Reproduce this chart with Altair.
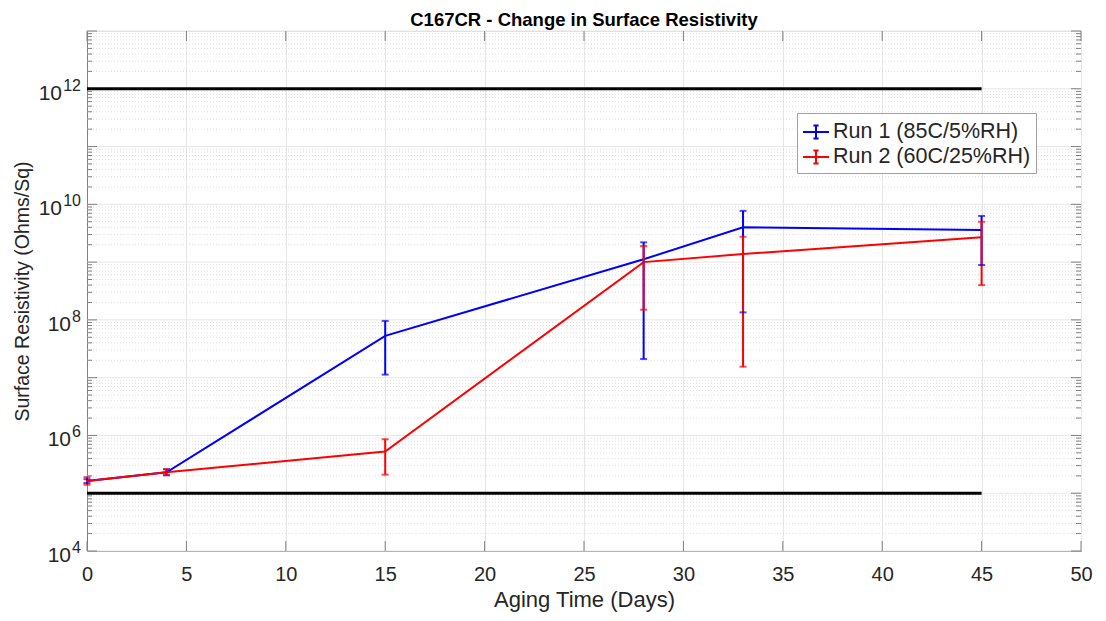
import math
import altair as alt
import pandas as pd

days = [0, 4, 15, 28, 33, 45]
run1 = [1.63e5, 2.3e5, 5.3e7, 1.12e9, 4.0e9, 3.6e9]
run1_hi = [1.75e5, 2.6e5, 9.6e7, 2.2e9, 7.7e9, 6.3e9]
run1_lo = [1.5e5, 2.05e5, 1.13e7, 2.1e7, 1.35e8, 8.9e8]
run2 = [1.63e5, 2.3e5, 5.25e5, 1.0e9, 1.38e9, 2.7e9]
run2_hi = [1.9e5, 2.6e5, 8.6e5, 1.9e9, 2.75e9, 5.0e9]
run2_lo = [1.4e5, 2.05e5, 2.1e5, 1.5e8, 1.55e7, 4.0e8]
series = ["Run 1 (85C/5%RH)", "Run 2 (60C/25%RH)"]
colors = ["#0000FF", "#FF0000"]
limits = [1e12, 1e5]
limit_x = [0, 45]
x_ticks = [0, 5, 10, 15, 20, 25, 30, 35, 40, 45, 50]
labels_1digit = [1e4, 1e6, 1e8]
labels_2digit = [1e10, 1e12]
decade_y = [1e4, 1e5, 1e6, 1e7, 1e8, 1e9, 1e10, 1e11, 1e12, 1e13]
minor_y = [m * d for d in decade_y[:-1] for m in range(2, 10)]

FONT = "Liberation Sans"
W, H = 994, 520

rows = []
for s, v, hi, lo in [(series[0], run1, run1_hi, run1_lo), (series[1], run2, run2_hi, run2_lo)]:
    for d, a, h, l in zip(days, v, hi, lo):
        rows.append({"day": d, "val": a, "hi": h, "lo": l, "series": s})
df = pd.DataFrame(rows)
lim_df = pd.DataFrame({"y": limits, "x0": [limit_x[0]] * 2, "x1": [limit_x[1]] * 2})


def lab_df(vals):
    return pd.DataFrame({"y": vals, "base": ["10"] * len(vals),
                         "exp": [str(round(math.log10(v))) for v in vals]})


xscale = alt.Scale(domain=[0, 50], nice=False, zero=False)
yscale = alt.Scale(type="log", domain=[1e4, 1e13], nice=False)

xaxis = alt.Axis(values=x_ticks, title="Aging Time (Days)", labelFlush=False,
                 grid=True, gridColor="#e6e6e6", labelFont=FONT, labelFontSize=20,
                 titleFont=FONT, titleFontSize=22, titleFontWeight="normal",
                 labelColor="#262626", titleColor="#262626", domainColor="#808080",
                 ticks=False, labelPadding=13, titlePadding=5)
yaxis = alt.Axis(values=[], labels=False, ticks=False, grid=False,
                 title="Surface Resistivity (Ohms/Sq)",
                 titleFont=FONT, titleFontSize=19.5, titleFontWeight="normal",
                 titleColor="#262626", domainColor="#808080",
                 titleX=-65, titleY=H / 2, titleAngle=-90, titleAlign="center",
                 titleBaseline="middle")

color = alt.Color("series:N", scale=alt.Scale(domain=series, range=colors),
                  legend=alt.Legend(title=None, orient="none", legendX=710, legendY=82,
                                    labelFont=FONT, labelFontSize=21.5, labelColor="#262626",
                                    labelLimit=0,
                                    symbolType="M-1,0H1M0,-0.5V0.5M-0.2,-0.5H0.2M-0.2,0.5H0.2",
                                    symbolSize=676, symbolStrokeWidth=2,
                                    strokeColor="#a0a0a0", fillColor="white", padding=5,
                                    rowPadding=0, labelOffset=3))
color_nl = alt.Color("series:N", scale=alt.Scale(domain=series, range=colors), legend=None)

minor = alt.Chart(pd.DataFrame({"y": minor_y})).mark_rule(
    color="#d6d6d6", strokeDash=[1, 2], strokeWidth=0.8
).encode(y=alt.Y("y:Q", scale=yscale, axis=yaxis))

decade = alt.Chart(pd.DataFrame({"y": decade_y})).mark_rule(
    color="#e6e6e6", strokeWidth=1
).encode(y=alt.Y("y:Q", scale=yscale, axis=yaxis))

# inward ticks (MATLAB style)
xt = pd.DataFrame({"x": x_ticks})
xtick_b = alt.Chart(xt).mark_rule(color="#808080").encode(
    x=alt.X("x:Q", scale=xscale, axis=xaxis), y=alt.value(H), y2=alt.value(H - 10))
xtick_t = alt.Chart(xt).mark_rule(color="#808080").encode(
    x=alt.X("x:Q", scale=xscale, axis=xaxis), y=alt.value(0), y2=alt.value(10))
yd = pd.DataFrame({"y": decade_y})
ym = pd.DataFrame({"y": minor_y})
ytick_l = alt.Chart(yd).mark_rule(color="#808080").encode(
    y=alt.Y("y:Q", axis=yaxis), x=alt.value(0), x2=alt.value(10))
ytick_r = alt.Chart(yd).mark_rule(color="#808080").encode(
    y=alt.Y("y:Q", axis=yaxis), x=alt.value(W), x2=alt.value(W - 10))
ymin_l = alt.Chart(ym).mark_rule(color="#808080").encode(
    y=alt.Y("y:Q", axis=yaxis), x=alt.value(0), x2=alt.value(5))
ymin_r = alt.Chart(ym).mark_rule(color="#808080").encode(
    y=alt.Y("y:Q", axis=yaxis), x=alt.value(W), x2=alt.value(W - 5))

# y tick labels as 10^n
exp_txt = alt.Chart(lab_df(labels_1digit + labels_2digit)).mark_text(
    font=FONT, fontSize=16, color="#262626", align="right", baseline="alphabetic", dy=2
).encode(y=alt.Y("y:Q", axis=yaxis), x=alt.value(-6), text="exp:N")
base1 = alt.Chart(lab_df(labels_1digit)).mark_text(
    font=FONT, fontSize=21, color="#262626", align="right", baseline="alphabetic", dy=11
).encode(y=alt.Y("y:Q", axis=yaxis), x=alt.value(-16), text="base:N")
base2 = alt.Chart(lab_df(labels_2digit)).mark_text(
    font=FONT, fontSize=21, color="#262626", align="right", baseline="alphabetic", dy=11
).encode(y=alt.Y("y:Q", axis=yaxis), x=alt.value(-25), text="base:N")

lines = alt.Chart(df).mark_line(strokeWidth=2).encode(
    x=alt.X("day:Q", scale=xscale, axis=xaxis),
    y=alt.Y("val:Q", scale=yscale, axis=yaxis),
    color=color,
    order="day:Q",
)

bars = alt.Chart(df).mark_rule(strokeWidth=2).encode(
    x=alt.X("day:Q", axis=xaxis), y=alt.Y("lo:Q", axis=yaxis), y2="hi:Q", color=color_nl)
cap_hi = alt.Chart(df).mark_tick(orient="horizontal", size=7, thickness=2).encode(
    x=alt.X("day:Q", axis=xaxis), y=alt.Y("hi:Q", axis=yaxis), color=color_nl)
cap_lo = alt.Chart(df).mark_tick(orient="horizontal", size=7, thickness=2).encode(
    x=alt.X("day:Q", axis=xaxis), y=alt.Y("lo:Q", axis=yaxis), color=color_nl)

lim = alt.Chart(lim_df).mark_rule(color="black", strokeWidth=3).encode(
    x=alt.X("x0:Q", axis=xaxis), x2="x1:Q", y=alt.Y("y:Q", axis=yaxis))

chart = alt.layer(minor, decade, xtick_b, xtick_t, ytick_l, ytick_r, ymin_l, ymin_r,
                  exp_txt, base1, base2, lim, lines, bars, cap_hi, cap_lo).properties(
    width=W, height=H,
    autosize=alt.AutoSizeParams(type="none"),
    padding={"left": 79, "top": 23, "right": 17, "bottom": 75},
    title=alt.Title("C167CR - Change in Surface Resistivity", font=FONT, fontSize=18.5,
                    fontWeight="bold", color="#000000", offset=1),
).configure_view(stroke="#808080", strokeWidth=1).configure(background="white")

chart.save("out.html", embed_options={"renderer": "svg", "actions": False})
